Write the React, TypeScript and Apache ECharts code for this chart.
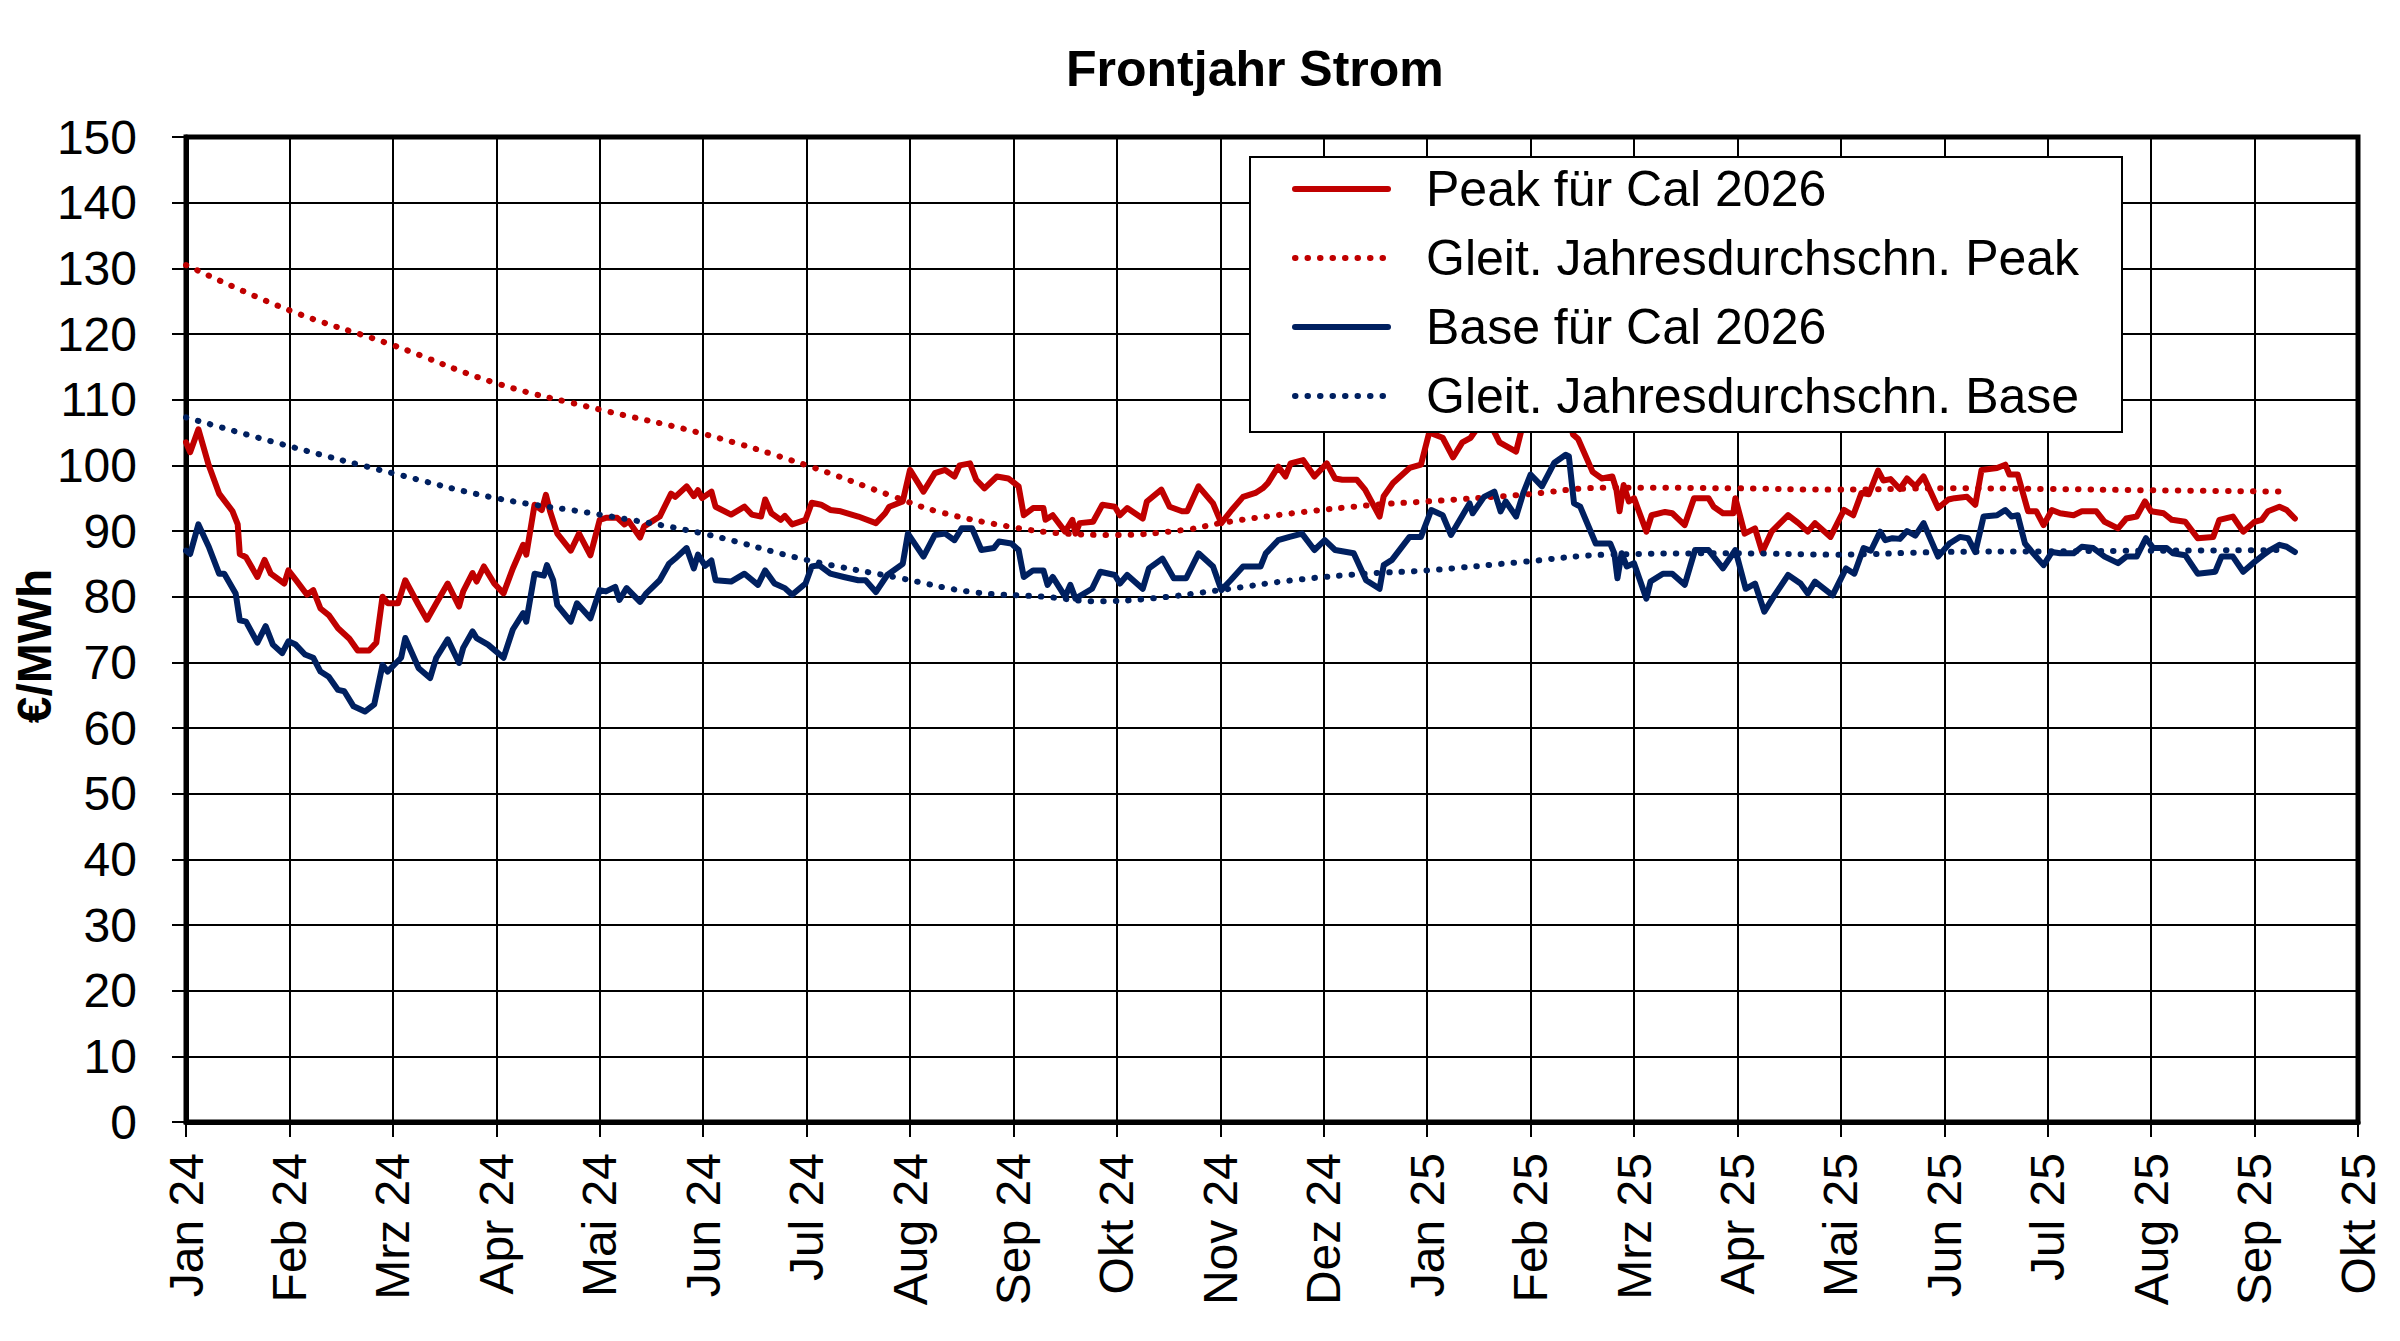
import React, { useEffect, useRef } from "react";
import * as echarts from "echarts";

// x = months since Jan 2024 (0 = Jan 24, 21 = Okt 25)
const monthLabels = [
  "Jan 24", "Feb 24", "Mrz 24", "Apr 24", "Mai 24", "Jun 24", "Jul 24", "Aug 24",
  "Sep 24", "Okt 24", "Nov 24", "Dez 24", "Jan 25", "Feb 25", "Mrz 25", "Apr 25",
  "Mai 25", "Jun 25", "Jul 25", "Aug 25", "Sep 25", "Okt 25",
];

const yTicks = [0, 10, 20, 30, 40, 50, 60, 70, 80, 90, 100, 110, 120, 130, 140, 150];

const seriesNames = [
  "Peak für Cal 2026",
  "Gleit. Jahresdurchschn. Peak",
  "Base für Cal 2026",
  "Gleit. Jahresdurchschn. Base",
];

const yAxisTitle = "€/MWh";

const peak: [number, number][] = [
  [0.0, 103.5], [0.04, 102], [0.12, 105.5], [0.22, 100], [0.32, 95.7], [0.45, 93], [0.5, 91], [0.52, 86.5],
  [0.58, 86], [0.69, 83], [0.76, 85.6], [0.82, 83.5], [0.95, 82], [0.99, 84], [1.06, 82.6], [1.17, 80.3],
  [1.23, 81], [1.3, 78.2], [1.38, 77.2], [1.47, 75.2], [1.58, 73.6], [1.66, 71.8], [1.77, 71.8], [1.84, 73],
  [1.9, 80], [1.95, 79], [2.05, 79], [2.12, 82.5], [2.25, 78.7], [2.33, 76.5], [2.42, 79], [2.53, 82],
  [2.64, 78.5], [2.68, 80.8], [2.77, 83.6], [2.81, 82.3], [2.88, 84.6], [2.98, 82], [3.07, 80.5], [3.16, 84.3],
  [3.26, 87.9], [3.29, 86.4], [3.37, 94], [3.44, 93.2], [3.48, 95.5], [3.52, 93], [3.59, 89.6], [3.72, 87],
  [3.8, 89.6], [3.91, 86.3], [4.0, 91.7], [4.06, 92], [4.17, 92], [4.24, 91], [4.28, 91.5], [4.39, 89],
  [4.43, 90.7], [4.58, 92.2], [4.69, 95.7], [4.73, 95.2], [4.84, 96.8], [4.91, 95.3], [4.95, 96.2], [4.99, 95],
  [5.08, 96], [5.12, 93.7], [5.27, 92.5], [5.4, 93.7], [5.47, 92.5], [5.56, 92.2], [5.6, 94.8], [5.66, 92.7],
  [5.75, 91.7], [5.79, 92.3], [5.86, 91], [5.99, 91.7], [6.05, 94.3], [6.14, 94],
  [6.23, 93.2], [6.33, 93], [6.5, 92.2], [6.67, 91.2], [6.76, 92.7], [6.8, 93.7], [6.93, 94.5], [7.0, 99.3],
  [7.13, 96], [7.24, 98.8], [7.34, 99.3], [7.43, 98.3], [7.48, 100], [7.58, 100.3], [7.64, 97.8], [7.72, 96.5],
  [7.84, 98.3], [7.95, 98], [8.05, 96.8], [8.1, 92.4], [8.19, 93.5], [8.29, 93.5], [8.31, 91.7], [8.38, 92.4],
  [8.5, 89.9], [8.57, 91.7], [8.6, 89.6], [8.64, 91.2], [8.77, 91.4], [8.86, 94], [8.98, 93.7], [9.03, 92.4],
  [9.1, 93.5], [9.25, 91.9], [9.29, 94.5], [9.43, 96.3], [9.51, 93.7], [9.63, 93], [9.68, 93], [9.79, 96.8],
  [9.93, 94.2], [10.01, 91.2], [10.11, 93.2], [10.22, 95.2], [10.34, 95.8], [10.41, 96.5], [10.46, 97.3], [10.56, 99.8],
  [10.63, 98.3], [10.68, 100.3], [10.8, 100.8], [10.91, 98.3], [11.03, 100.3], [11.11, 98], [11.18, 97.8], [11.32, 97.8],
  [11.4, 96.3], [11.54, 92.2], [11.58, 95.3], [11.67, 97.3], [11.83, 99.6], [11.94, 100.1], [12.02, 105], [12.15, 104.2],
  [12.25, 101.2], [12.34, 103.5], [12.42, 104.2], [12.5, 106], [12.62, 106], [12.7, 103.5], [12.86, 102.1], [12.93, 106.5],
  [13.0, 108], [13.11, 106.5], [13.23, 109], [13.34, 110], [13.41, 104.7], [13.46, 104], [13.6, 99], [13.69, 98],
  [13.79, 98.3], [13.83, 96.3], [13.86, 93], [13.9, 97], [13.95, 94.5], [14.0, 95], [14.12, 89.9], [14.17, 92.4],
  [14.3, 92.9], [14.37, 92.7], [14.49, 90.9], [14.58, 95], [14.72, 95], [14.77, 93.7], [14.86, 92.7], [14.96, 92.7],
  [14.98, 95], [15.07, 89.6], [15.17, 90.4], [15.24, 86.8], [15.33, 89.9], [15.49, 92.4], [15.59, 91.2], [15.68, 89.9],
  [15.75, 91.2], [15.9, 89.1], [16.03, 93.2], [16.12, 92.4], [16.2, 95.8], [16.27, 95.6], [16.36, 99.2], [16.41, 97.7],
  [16.48, 97.9], [16.57, 96.4], [16.64, 98], [16.72, 96.8], [16.8, 98.3], [16.94, 93.5], [17.04, 94.8], [17.1, 95],
  [17.22, 95.2], [17.3, 94], [17.36, 99.3], [17.51, 99.6], [17.59, 100.1], [17.63, 98.6], [17.71, 98.6], [17.81, 93],
  [17.89, 93], [17.96, 90.9], [18.04, 93.2], [18.12, 92.7], [18.25, 92.4], [18.33, 93], [18.47, 93], [18.55, 91.4],
  [18.68, 90.4], [18.76, 91.9], [18.86, 92.2], [18.94, 94.5], [19.0, 93], [19.12, 92.7], [19.2, 91.7], [19.33, 91.4],
  [19.45, 88.9], [19.6, 89.1], [19.66, 91.7], [19.79, 92.2], [19.89, 89.9], [20.0, 91.4], [20.07, 91.7], [20.13, 93],
  [20.24, 93.7], [20.31, 93.2], [20.39, 91.9],
];

const base: [number, number][] = [
  [0.0, 87], [0.04, 86.5], [0.12, 91], [0.22, 87.6], [0.32, 83.5], [0.37, 83.5], [0.48, 80.5], [0.52, 76.4],
  [0.58, 76.2], [0.69, 73], [0.77, 75.5], [0.84, 72.7], [0.93, 71.4], [0.99, 73.2], [1.06, 72.7], [1.15, 71.2],
  [1.23, 70.7], [1.3, 68.6], [1.38, 67.8], [1.47, 65.8], [1.53, 65.6], [1.62, 63.3], [1.73, 62.5], [1.82, 63.6],
  [1.9, 69.6], [1.95, 68.6], [2.08, 70.7], [2.12, 73.7], [2.25, 69.1], [2.36, 67.6], [2.42, 70.7], [2.53, 73.5],
  [2.64, 69.9], [2.68, 72.2], [2.77, 74.7], [2.81, 73.7], [2.92, 72.7], [3.07, 70.7], [3.16, 75], [3.26, 77.5],
  [3.29, 76.2], [3.37, 83.5], [3.46, 83.2], [3.49, 84.8], [3.55, 82.5], [3.59, 78.7], [3.72, 76.2], [3.78, 79],
  [3.91, 76.7], [4.0, 81], [4.06, 80.8], [4.15, 81.5], [4.19, 79.5], [4.26, 81.3], [4.39, 79.2], [4.45, 80.5],
  [4.58, 82.5], [4.67, 85], [4.73, 85.8], [4.84, 87.4], [4.91, 84.3], [4.95, 86.4], [5.02, 84.7], [5.08, 85.5],
  [5.12, 82.5], [5.27, 82.3], [5.4, 83.5], [5.53, 81.8], [5.6, 84], [5.69, 82], [5.79, 81.3], [5.86, 80.3],
  [5.99, 82], [6.05, 84.6], [6.12, 84.8],
  [6.23, 83.5], [6.36, 83], [6.5, 82.5], [6.57, 82.5], [6.67, 80.7], [6.78, 83.3], [6.93, 85], [6.98, 89.6],
  [7.13, 86.1], [7.24, 89.4], [7.34, 89.6], [7.43, 88.6], [7.5, 90.4], [7.6, 90.4], [7.69, 87.1], [7.81, 87.4],
  [7.86, 88.4], [7.98, 88.1], [8.05, 87.1], [8.1, 83], [8.19, 84], [8.29, 84], [8.33, 81.8], [8.38, 83],
  [8.5, 80], [8.55, 81.8], [8.6, 79.7], [8.76, 81.2], [8.84, 83.8], [8.98, 83.3], [9.03, 82], [9.1, 83.3],
  [9.25, 81.2], [9.31, 84.3], [9.44, 85.8], [9.55, 82.8], [9.67, 82.8], [9.79, 86.6], [9.93, 84.6], [10.01, 81],
  [10.1, 82.5], [10.22, 84.6], [10.39, 84.6], [10.44, 86.6], [10.56, 88.6], [10.67, 89.1], [10.79, 89.6], [10.91, 87.1],
  [11.01, 88.6], [11.11, 87.1], [11.29, 86.6], [11.41, 82.5], [11.54, 81.2], [11.58, 84.8], [11.66, 85.6], [11.83, 89.1],
  [11.94, 89.1], [12.04, 93.2], [12.15, 92.4], [12.23, 89.4], [12.41, 94.2], [12.44, 92.7], [12.55, 95.2], [12.65, 96],
  [12.71, 93], [12.76, 94.5], [12.86, 92.2], [12.93, 95.8], [13.0, 98.6], [13.11, 96.8], [13.23, 100.4], [13.34, 101.6],
  [13.37, 101.4], [13.42, 94.2], [13.48, 93.7], [13.63, 88.1], [13.77, 88.1], [13.81, 86.6], [13.84, 82.8], [13.88, 86.6],
  [13.93, 84.6], [14.0, 85.1], [14.12, 79.7], [14.16, 82.3], [14.28, 83.5], [14.37, 83.5], [14.49, 81.8], [14.59, 87.1],
  [14.72, 87.1], [14.86, 84.3], [14.98, 87.1], [15.08, 81.2], [15.17, 82], [15.26, 77.7], [15.35, 80], [15.49, 83.3],
  [15.61, 82], [15.68, 80.5], [15.75, 82.3], [15.92, 80.2], [16.05, 84.3], [16.13, 83.5], [16.22, 87.4], [16.29, 87],
  [16.38, 89.9], [16.43, 88.6], [16.5, 88.9], [16.57, 88.8], [16.64, 90], [16.72, 89.3], [16.8, 91.2], [16.94, 86.1],
  [17.05, 88.1], [17.15, 89.1], [17.23, 88.9], [17.3, 86.8], [17.38, 92.2], [17.51, 92.4], [17.59, 93.2], [17.65, 92.2],
  [17.71, 92.4], [17.78, 88.1], [17.86, 86.6], [17.96, 84.8], [18.04, 86.8], [18.12, 86.6], [18.25, 86.6], [18.33, 87.6],
  [18.44, 87.4], [18.55, 86.1], [18.68, 85.1], [18.76, 86.1], [18.86, 86.1], [18.95, 88.9], [19.02, 87.4], [19.15, 87.4],
  [19.21, 86.6], [19.33, 86.3], [19.45, 83.5], [19.62, 83.8], [19.68, 86.1], [19.79, 86.1], [19.89, 83.8], [20.0, 85.3],
  [20.08, 86.3], [20.15, 87.1], [20.24, 87.9], [20.31, 87.6], [20.39, 86.8],
];

const peakAvg: [number, number][] = [
  [0, 130.5], [1, 123.6], [2, 118.3], [3, 112.5], [4, 108.5], [5, 104.8], [6, 100], [6.85, 95.2],
  [7.26, 93], [7.95, 90.7], [8.5, 89.6], [9.0, 89.4], [9.67, 90.2], [10.0, 91.2], [10.7, 92.7], [11.5, 94],
  [12.0, 94.5], [12.9, 95.5], [13.74, 96.6], [15.0, 96.5], [15.94, 96.3], [17.0, 96.5], [18, 96.4], [19, 96.2],
  [20.31, 96.0],
];

const baseAvg: [number, number][] = [
  [0, 107.3], [1, 102.9], [2, 98.8], [3, 95], [4, 92.5], [5, 89.6], [6, 85.6], [6.91, 82.8],
  [7.6, 80.7], [8.29, 80], [8.8, 79.3], [9.32, 79.7], [10.0, 81], [10.7, 82.5], [11.4, 83.5], [12.0, 84],
  [12.93, 85.3], [13.74, 86.4], [15.0, 86.6], [15.94, 86.4], [16.97, 86.8], [18, 86.9], [19, 87],
  [20.31, 87.1],
];

const RED = "#C00000";
const NAVY = "#002060";
const FONT = "'Liberation Sans', Arial, sans-serif";

export default function App() {
  const ref = useRef<HTMLDivElement>(null);

  useEffect(() => {
    if (!ref.current) return;
    const chart = echarts.init(ref.current, undefined, { renderer: "svg" });
    const solid = (color: string) => ({ color, width: 6, type: "solid" as const, join: "round" as const, cap: "round" as const });
    const dotted = (color: string) => ({ color, width: 6, type: [0.5, 12] as any, cap: "round" as const });

    chart.setOption({
      animation: false,
      backgroundColor: "#fff",
      textStyle: { fontFamily: FONT },
      title: {
        text: "Frontjahr Strom",
        left: 1066,
        top: 44,
        padding: 0,
        textStyle: { fontSize: 50, fontWeight: "bold", color: "#000", fontFamily: FONT, lineHeight: 50 },
      },
      grid: {
        left: 186,
        right: 42,
        top: 137,
        bottom: 219,
        show: true,
        borderColor: "#000",
        borderWidth: 5,
        backgroundColor: "#fff",
        containLabel: false,
        outerBoundsMode: "none",
      },
      legend: {
        orient: "vertical",
        left: 1292,
        top: 161,
        padding: 0,
        itemWidth: 93,
        itemHeight: 14,
        itemGap: 13,
        z: 4,
        itemStyle: { opacity: 0 },
        lineStyle: { width: 6, type: "inherit", cap: "round" },
        textStyle: { fontSize: 50, color: "#000", fontFamily: FONT, lineHeight: 56, padding: [0, 0, 0, 33] },
        data: seriesNames,
      },
      graphic: [
        {
          type: "rect",
          z: 3,
          shape: { x: 1250, y: 157, width: 872, height: 275 },
          style: { fill: "#fff", stroke: "#000", lineWidth: 2 },
        },
        {
          type: "text",
          z: 5,
          x: 34,
          y: 646,
          rotation: Math.PI / 2,
          style: {
            text: yAxisTitle,
            fontSize: 48,
            fontWeight: "bold",
            fontFamily: FONT,
            fill: "#000",
            align: "center",
            verticalAlign: "middle",
          },
        },
      ],
      xAxis: {
        type: "value",
        min: 0,
        max: monthLabels.length - 1,
        interval: 1,
        axisLine: { show: true, lineStyle: { color: "#000", width: 5 } },
        axisTick: { show: true, length: 15, lineStyle: { color: "#000", width: 2 } },
        splitLine: { show: true, lineStyle: { color: "#000", width: 2 } },
        axisLabel: {
          rotate: 90,
          margin: 31,
          fontSize: 48,
          color: "#000",
          fontFamily: FONT,
          showMinLabel: true,
          showMaxLabel: true,
          formatter: (v: number) => monthLabels[Math.round(v)] ?? "",
        },
      },
      yAxis: {
        type: "value",
        min: yTicks[0],
        max: yTicks[yTicks.length - 1],
        interval: 10,
        axisLine: { show: true, lineStyle: { color: "#000", width: 5 } },
        axisTick: { show: true, length: 14, lineStyle: { color: "#000", width: 2 } },
        splitLine: { show: true, lineStyle: { color: "#000", width: 2 } },
        axisLabel: { margin: 49, fontSize: 48, color: "#000", fontFamily: FONT },
      },
      series: [
        { name: seriesNames[0], type: "line", data: peak, showSymbol: false, symbol: "none", z: 2, lineStyle: solid(RED), itemStyle: { color: RED } },
        { name: seriesNames[1], type: "line", data: peakAvg, smooth: 0.4, showSymbol: false, symbol: "none", z: 2, lineStyle: dotted(RED), itemStyle: { color: RED } },
        { name: seriesNames[2], type: "line", data: base, showSymbol: false, symbol: "none", z: 2, lineStyle: solid(NAVY), itemStyle: { color: NAVY } },
        { name: seriesNames[3], type: "line", data: baseAvg, smooth: 0.4, showSymbol: false, symbol: "none", z: 2, lineStyle: dotted(NAVY), itemStyle: { color: NAVY } },
      ],
    });
    return () => chart.dispose();
  }, []);

  return (
    <div
      ref={ref}
      style={{ position: "fixed", left: 0, top: 0, width: "2400px", height: "1341px", background: "#fff" }}
    />
  );
}
